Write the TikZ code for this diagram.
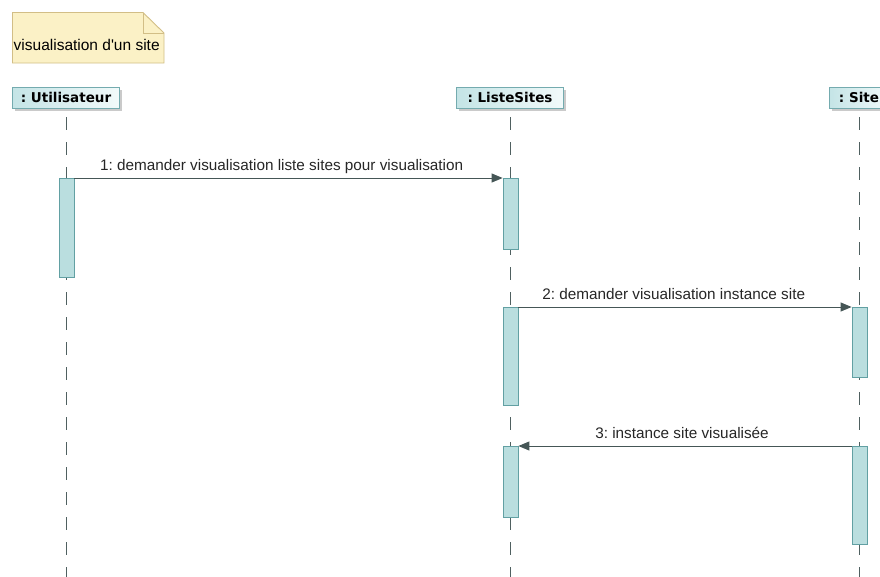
\documentclass[tikz,border=0pt]{standalone}
\usepackage{fontspec}
\setmainfont{Liberation Sans}
\newfontfamily\hdrfont{DejaVu Sans}
\usetikzlibrary{arrows.meta,shadows}
\definecolor{hdrL}{HTML}{C4E4E6}
\definecolor{hdrR}{HTML}{F2FAFA}
\definecolor{hdrB}{HTML}{74ABAF}
\definecolor{actF}{HTML}{BADEDF}
\definecolor{actB}{HTML}{62A0A3}
\definecolor{noteF}{HTML}{FBF1C6}
\definecolor{noteB}{HTML}{D2BE86}
\definecolor{msgC}{HTML}{455656}
\definecolor{lifeC}{HTML}{4F6060}
\tikzset{
  hdr/.style={draw=hdrB, line width=0.9pt, left color=hdrL, right color=hdrR,
    minimum width=107pt, minimum height=21pt, inner sep=0pt,
    font=\hdrfont\fontsize{13.5}{15}\selectfont\bfseries,
    drop shadow={shadow xshift=2.5pt, shadow yshift=-2.5pt, fill=black!35, opacity=0.6}},
  actbar/.style={draw=actB, fill=actF, line width=0.8pt, minimum width=15pt, inner sep=0pt, anchor=north},
  lifeline/.style={draw=lifeC, line width=0.9pt, dash pattern=on 13pt off 12pt, dash phase=16pt},
  msg/.style={draw=msgC, line width=1pt, -{Triangle[length=11pt,width=9pt]}},
  msglbl/.style={font=\fontsize{15.3}{17}\selectfont, text=black!85, anchor=base, yshift=8pt, inner sep=0pt},
}
\begin{document}
\frenchspacing
\begin{tikzpicture}[x=1pt,y=-1pt]
\useasboundingbox (0,0) rectangle (880,576);
\clip (0,0) rectangle (880,576);
% note
\fill[noteF] (12.5,12.5) -- (143,12.5) -- (164,33) -- (164,63) -- (12.5,63) -- cycle;
\draw[noteB, line width=0.9pt] (12.5,12.5) -- (143,12.5) -- (164,33) -- (164,63) -- (12.5,63) -- cycle;
\draw[noteB, line width=0.9pt] (143,12.5) -- (143,33) -- (164,33);
\node[font=\fontsize{15.5}{17}\selectfont, inner sep=0pt, anchor=base west] (notetxt) at (13.5,50) {visualisation d\textquotesingle un site};
% lifelines
\coordinate (lu) at (66,108);
\coordinate (ll) at (510,108);
\coordinate (ls) at (859,108);
\coordinate (lu2) at (66,580);
\coordinate (ll2) at (510,580);
\coordinate (ls2) at (859,580);
\draw[lifeline] (lu) -- (lu2);
\draw[lifeline] (ll) -- (ll2);
\draw[lifeline] (ls) -- (ls2);
% headers
\node[hdr] (hu) at (66,97.5) {: Utilisateur};
\node[hdr] (hl) at (510,97.5) {: ListeSites};
\node[hdr, minimum width=60pt] (hs) at (859,97.5) {: Site};
% activation bars
\node[actbar, minimum height=99pt] (a1) at (66.5,178) {};
\node[actbar, minimum height=71pt] (b1) at (510.5,178) {};
\node[actbar, minimum height=98pt] (b2) at (510.5,307) {};
\node[actbar, minimum height=70pt] (c1) at (859.5,307) {};
\node[actbar, minimum height=71pt] (b3) at (510.5,446) {};
\node[actbar, minimum height=98pt] (c2) at (859.5,446) {};
% messages
\draw[msg] (a1.north east) -- node[msglbl, pos=0.484] (m1) {1: demander visualisation liste sites pour visualisation} (b1.north west);
\draw[msg] (b2.north east) -- node[msglbl, pos=0.466] (m2) {2: demander visualisation instance site} (c1.north west);
\draw[msg] (c2.north west) -- node[msglbl, pos=0.509] (m3) {3: instance site visualisée} (b3.north east);
\end{tikzpicture}
\end{document}
